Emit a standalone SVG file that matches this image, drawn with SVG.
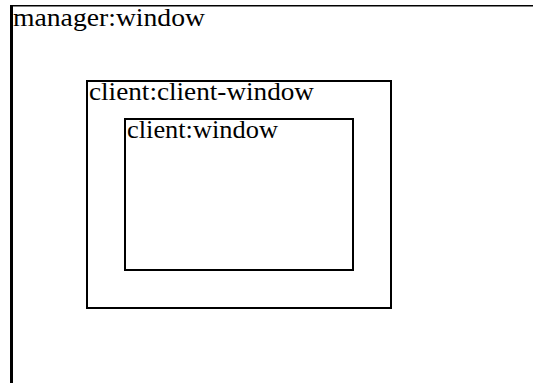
<svg xmlns="http://www.w3.org/2000/svg" width="533" height="383" viewBox="0 0 533 383">
<style>
.t{font-family:"Liberation Serif","DejaVu Serif",serif;font-size:25px;fill:#000}
.b{fill:none;stroke:#000;stroke-width:2}
</style>
<rect x="0" y="0" width="533" height="383" fill="#fff"/>
<g id="manager-window">
<line x1="11.5" y1="5" x2="11.5" y2="383" stroke="#000" stroke-width="3"/>
<line x1="10" y1="5.75" x2="533" y2="5.75" stroke="#000" stroke-width="1.5"/>
<text class="t" x="13" y="26" textLength="192" lengthAdjust="spacingAndGlyphs">manager:window</text>
</g>
<g id="client-client-window">
<rect class="b" x="87" y="81" width="304" height="227"/>
<text class="t" x="89" y="100" textLength="225" lengthAdjust="spacingAndGlyphs">client:client-window</text>
</g>
<g id="client-window">
<rect class="b" x="125" y="119" width="228" height="151"/>
<text class="t" x="127" y="138" textLength="151" lengthAdjust="spacingAndGlyphs">client:window</text>
</g>
<g id="connectors"></g>
</svg>
